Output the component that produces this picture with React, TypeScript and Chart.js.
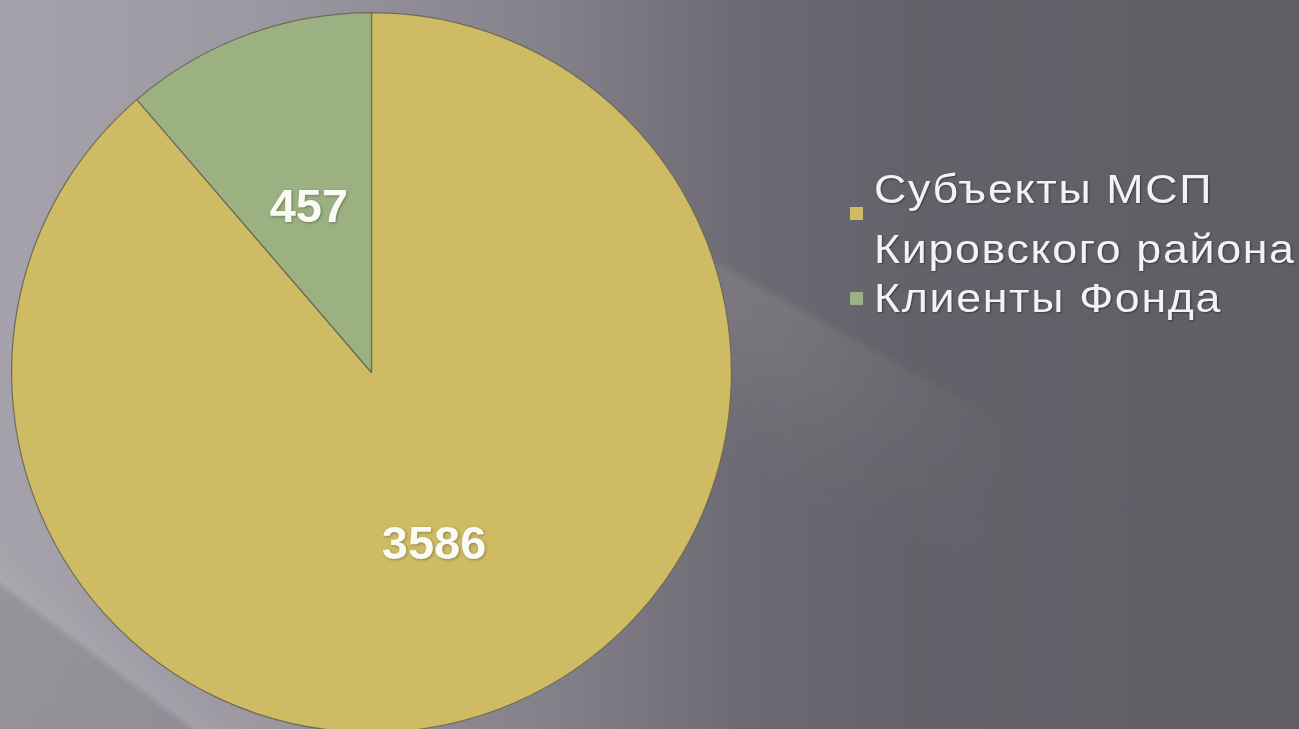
import React, { useEffect, useRef } from "react";
import { Chart, registerables } from "chart.js";

Chart.register(...registerables);

const categories = ["Субъекты МСП Кировского района", "Клиенты Фонда"];
const legendLines = [["Субъекты МСП", "Кировского района"], ["Клиенты Фонда"]];
const values = [3586, 457];
const sliceColors = ["#CEBB63", "#9BB181"];

const valueLabelsPlugin = {
  id: "valueLabels",
  afterDatasetsDraw(chart: any) {
    const ctx = chart.ctx;
    const meta = chart.getDatasetMeta(0);
    ctx.save();
    ctx.font = "bold 47px 'Liberation Sans', Arial, sans-serif";
    ctx.textAlign = "center";
    ctx.textBaseline = "middle";
    ctx.fillStyle = "#fbfbf6";
    ctx.shadowColor = "rgba(0,0,0,0.3)";
    ctx.shadowBlur = 3;
    ctx.shadowOffsetX = 1;
    ctx.shadowOffsetY = 1;
    meta.data.forEach((arc: any, i: number) => {
      const p = arc.tooltipPosition();
      const v = chart.data.datasets[0].data[i];
      ctx.fillText(String(v), p.x, p.y + 5);
    });
    ctx.restore();
  },
};

const customLegendPlugin = {
  id: "customLegend",
  afterDraw(chart: any) {
    const ctx = chart.ctx;
    const textX = 874;
    const markerX = 850;
    const baselines = [[203, 263], [312]];
    const markerY = [207, 292];
    ctx.save();
    ctx.font = "40px 'Liberation Sans', Arial, sans-serif";
    const target = 420;
    const ref = "Кировского района";
    const w = ctx.measureText(ref).width;
    const s = Math.min(1.12, target / w);
    const ls = (target / s - w) / (ref.length - 1);
    legendLines.forEach((lines, i) => {
      ctx.save();
      ctx.shadowColor = "transparent";
      ctx.fillStyle = chart.data.datasets[0].backgroundColor[i];
      ctx.fillRect(markerX, markerY[i], 13, 13);
      ctx.restore();
      lines.forEach((line, j) => {
        ctx.save();
        ctx.translate(textX, baselines[i][j]);
        ctx.scale(s, 1);
        (ctx as any).letterSpacing = ls.toFixed(2) + "px";
        ctx.textAlign = "left";
        ctx.textBaseline = "alphabetic";
        ctx.fillStyle = "#f3f3f3";
        ctx.shadowColor = "rgba(0,0,0,0.4)";
        ctx.shadowBlur = 2;
        ctx.shadowOffsetX = 1;
        ctx.shadowOffsetY = 1;
        ctx.fillText(line, 0, 0);
        ctx.restore();
      });
    });
    ctx.restore();
  },
};

export default function App() {
  const canvasRef = useRef<HTMLCanvasElement | null>(null);

  useEffect(() => {
    if (!canvasRef.current) return;
    const chart = new Chart(canvasRef.current, {
      type: "pie",
      data: {
        labels: categories,
        datasets: [
          {
            data: values,
            backgroundColor: sliceColors,
            borderColor: "#6e6b58",
            borderWidth: 1.2,
            hoverOffset: 0,
            offset: 0,
          },
        ],
      },
      options: {
        responsive: false,
        animation: false,
        events: [],
        layout: { padding: { left: 11, top: 12, right: 567, bottom: 27 } },
        plugins: {
          legend: { display: false },
          tooltip: { enabled: false },
        },
      },
      plugins: [valueLabelsPlugin, customLegendPlugin],
    });
    return () => chart.destroy();
  }, []);

  const full: React.CSSProperties = { position: "absolute", left: 0, top: 0, width: 1299, height: 729 };

  return (
    <div
      style={{
        position: "fixed",
        left: 0,
        top: 0,
        width: 1299,
        height: 729,
        overflow: "hidden",
        background:
          "linear-gradient(90deg, #a6a2ab 0%, #9c98a2 20%, #85818b 42%, #6e6a73 57%, #65616a 70%, #615d65 100%)",
      }}
    >
      <div
        style={{
          ...full,
          background:
            "linear-gradient(209deg, rgba(255,255,255,0) 0%, rgba(255,255,255,0) 40%, rgba(255,255,255,0.09) 40.8%, rgba(255,255,255,0.08) 44%, rgba(255,255,255,0.03) 49%, rgba(255,255,255,0) 54%, rgba(255,255,255,0) 100%)",
          WebkitMaskImage: "linear-gradient(90deg, transparent 0%, transparent 52%, black 56%, black 60%, transparent 80%)",
          maskImage: "linear-gradient(90deg, transparent 0%, transparent 52%, black 56%, black 60%, transparent 80%)",
        }}
      />
      <div
        style={{
          ...full,
          background:
            "linear-gradient(217deg, rgba(0,0,0,0) 0%, rgba(0,0,0,0) 89%, rgba(255,255,255,0.05) 91.2%, rgba(0,0,0,0.09) 91.8%, rgba(0,0,0,0.1) 100%)",
        }}
      />
      <canvas ref={canvasRef} width={1299} height={760} style={{ display: "block", position: "absolute", left: 0, top: 0 }} />
    </div>
  );
}
